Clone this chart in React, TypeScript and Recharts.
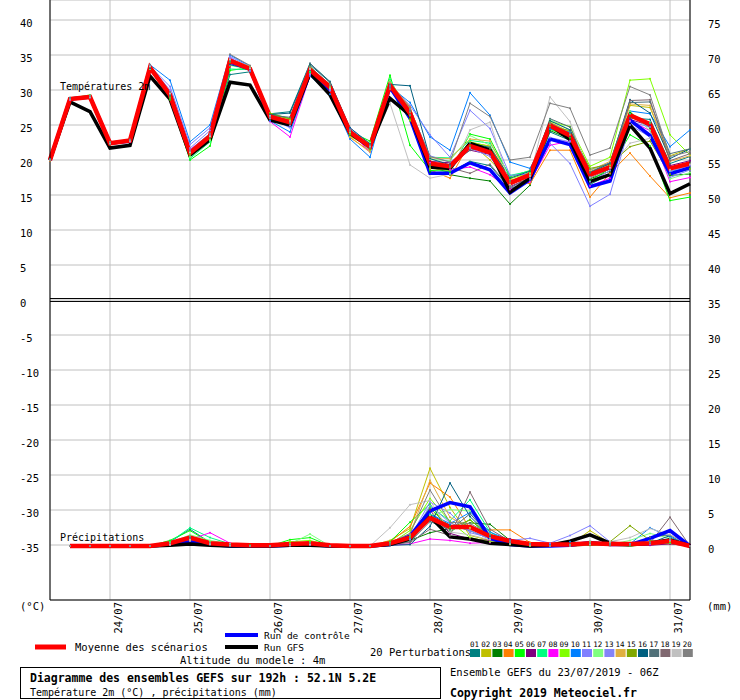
import React from 'react';
import { ComposedChart, Line, XAxis, YAxis, CartesianGrid, ReferenceLine } from 'recharts';

// forecast steps, hours after 23/07 06Z
const hours = [0, 6, 12, 18, 24, 30, 36, 42, 48, 54, 60, 66, 72, 78, 84, 90, 96, 102, 108, 114, 120, 126, 132, 138, 144, 150, 156, 162, 168, 174, 180, 186, 192];
const dayTicks = [18, 42, 66, 90, 114, 138, 162, 186];
const dayLabels = ['24/07', '25/07', '26/07', '27/07', '28/07', '29/07', '30/07', '31/07'];
const tempTicks = [-35, -30, -25, -20, -15, -10, -5, 0, 5, 10, 15, 20, 25, 30, 35, 40];
const precipTicks = [0, 5, 10, 15, 20, 25, 30, 35, 40, 45, 50, 55, 60, 65, 70, 75];

const memberColors = [
  '#008080', '#c0c000', '#008000', '#ff8000', '#00ff00', '#800080', '#00ff80', '#ff00ff', '#80ff00', '#0080ff',
  '#8080ff', '#80ff80', '#8484f8', '#e0b040', '#80a800', '#006080', '#507078', '#806870', '#c0c0c0', '#808080',
];

// 2m temperature (°C)
const tempMean = [20.0, 28.7, 29.0, 22.4, 22.8, 33.2, 29.3, 21.0, 23.4, 34.2, 33.0, 26.2, 25.4, 32.9, 30.4, 24.0, 21.9, 30.7, 26.7, 19.5, 19.1, 22.0, 21.1, 16.7, 17.9, 24.9, 23.5, 17.9, 19.0, 26.4, 25.1, 18.8, 19.5];
const tempControl = [20.0, 28.7, 29.0, 22.4, 22.7, 33.2, 29.3, 21.0, 23.3, 34.0, 33.0, 26.0, 25.0, 32.5, 30.0, 24.0, 21.8, 30.4, 26.0, 18.1, 18.1, 19.6, 18.6, 15.3, 17.2, 23.0, 22.2, 16.2, 17.0, 25.7, 23.5, 18.0, 18.9];
const tempGfs = [20.0, 28.3, 26.9, 21.7, 22.1, 32.0, 28.7, 20.7, 22.9, 31.1, 30.7, 25.7, 25.0, 32.4, 29.3, 23.8, 21.9, 28.8, 26.4, 19.0, 18.8, 22.4, 21.4, 15.4, 17.4, 25.0, 22.9, 16.9, 17.9, 25.0, 21.7, 15.2, 16.6];
const tempMembers = [
  [20.1, 28.8, 29.1, 22.5, 22.9, 33.0, 29.0, 20.6, 23.0, 32.2, 32.6, 26.6, 26.9, 33.8, 31.2, 24.4, 22.0, 30.9, 27.5, 19.0, 18.2, 19.8, 19.2, 15.9, 17.0, 24.0, 22.8, 16.5, 18.0, 26.0, 25.8, 19.5, 20.5],
  [20.0, 28.9, 29.2, 22.6, 22.9, 33.3, 29.2, 21.2, 23.6, 34.5, 33.3, 26.0, 25.8, 33.2, 30.8, 23.4, 21.8, 31.0, 25.9, 18.8, 18.5, 22.5, 20.0, 16.9, 18.2, 25.4, 24.0, 18.2, 19.2, 27.8, 27.5, 20.6, 21.6],
  [20.0, 28.7, 29.0, 22.3, 22.7, 33.1, 29.6, 21.1, 23.4, 34.4, 33.1, 26.4, 25.6, 32.6, 30.1, 23.6, 21.6, 31.2, 26.0, 18.3, 17.9, 17.4, 17.0, 13.7, 16.4, 24.2, 23.0, 17.3, 18.4, 26.8, 24.6, 17.8, 18.0],
  [19.9, 28.6, 29.1, 22.2, 22.6, 33.2, 29.5, 20.8, 23.8, 34.3, 33.2, 25.9, 25.2, 32.7, 30.3, 23.2, 21.3, 31.0, 27.6, 18.6, 17.4, 22.5, 22.0, 17.3, 16.6, 21.4, 21.4, 14.7, 18.1, 21.0, 17.7, 14.6, 15.3],
  [20.1, 28.8, 28.9, 22.4, 22.8, 33.0, 28.6, 20.0, 22.0, 32.8, 33.2, 26.5, 25.9, 32.5, 30.3, 24.1, 22.7, 32.1, 22.1, 18.5, 18.4, 23.7, 23.0, 17.6, 18.5, 24.4, 23.2, 17.0, 18.8, 23.6, 22.0, 14.2, 14.7],
  [20.0, 28.7, 29.0, 22.4, 22.8, 33.4, 29.4, 21.3, 23.6, 34.4, 32.8, 26.3, 25.3, 32.8, 30.5, 24.2, 22.1, 30.5, 27.0, 19.8, 19.6, 21.4, 20.8, 16.2, 17.4, 24.6, 23.4, 17.6, 18.7, 25.8, 24.9, 19.2, 19.9],
  [20.0, 28.8, 29.1, 22.4, 22.7, 33.2, 28.9, 20.2, 22.6, 33.0, 32.9, 26.4, 25.5, 32.6, 30.5, 23.7, 22.2, 31.5, 26.4, 20.4, 20.3, 22.8, 22.4, 17.8, 18.4, 25.2, 23.8, 17.5, 18.9, 26.6, 25.3, 18.4, 18.8],
  [20.0, 28.6, 28.9, 22.5, 22.6, 33.2, 29.6, 21.5, 23.7, 34.6, 32.9, 25.5, 23.3, 32.0, 30.0, 23.9, 21.2, 30.2, 27.0, 19.6, 18.6, 19.0, 17.9, 15.8, 16.9, 22.1, 22.7, 16.3, 17.4, 25.6, 24.2, 16.9, 17.5],
  [20.0, 28.8, 29.3, 22.5, 22.8, 33.1, 29.3, 20.5, 22.9, 34.1, 33.4, 26.7, 25.9, 33.4, 30.4, 23.9, 21.4, 30.2, 25.6, 18.9, 19.0, 22.6, 21.9, 17.3, 18.2, 25.5, 24.8, 19.1, 20.4, 31.4, 31.6, 23.6, 20.7],
  [20.1, 28.9, 29.2, 22.3, 22.7, 33.6, 31.4, 22.6, 25.0, 35.0, 33.4, 25.6, 24.0, 32.0, 29.4, 23.0, 20.4, 30.5, 28.2, 23.3, 21.4, 29.6, 26.4, 19.7, 18.8, 24.4, 24.0, 18.6, 19.6, 27.0, 26.6, 21.9, 24.3],
  [20.0, 28.7, 29.0, 22.5, 22.9, 33.4, 30.5, 22.2, 24.6, 34.8, 33.3, 26.0, 24.6, 32.2, 29.9, 24.6, 22.3, 30.6, 27.8, 23.6, 20.4, 27.1, 24.5, 17.8, 18.0, 22.4, 19.5, 13.4, 15.1, 25.0, 23.3, 17.5, 18.6],
  [20.0, 28.8, 29.0, 22.3, 22.8, 33.0, 29.4, 20.4, 22.8, 33.5, 33.0, 26.1, 25.6, 33.1, 30.6, 24.0, 22.5, 31.3, 26.9, 20.1, 19.9, 23.5, 22.1, 16.4, 18.0, 25.8, 24.3, 18.3, 19.4, 27.0, 24.2, 17.3, 18.2],
  [20.0, 28.6, 29.0, 22.4, 22.7, 33.4, 30.0, 21.7, 24.2, 34.7, 32.7, 26.0, 24.9, 32.3, 30.0, 24.4, 21.8, 30.2, 27.2, 20.6, 19.7, 21.7, 20.5, 16.1, 17.3, 23.2, 22.6, 16.9, 18.5, 25.5, 24.7, 18.4, 19.2],
  [20.0, 28.7, 29.1, 22.5, 22.8, 33.3, 29.3, 21.0, 23.5, 34.3, 33.4, 26.3, 25.7, 33.0, 30.7, 23.3, 21.1, 31.0, 27.4, 20.3, 20.2, 23.0, 22.7, 17.1, 17.9, 25.2, 23.6, 18.5, 19.8, 28.0, 27.8, 19.8, 20.6],
  [20.0, 28.7, 29.0, 22.4, 22.8, 33.1, 29.0, 20.9, 23.2, 34.0, 33.2, 26.6, 25.9, 33.3, 30.7, 23.7, 21.6, 30.8, 25.8, 19.2, 19.0, 22.0, 21.6, 16.4, 17.8, 24.8, 24.2, 18.8, 19.4, 21.9, 22.7, 18.0, 18.7],
  [20.0, 28.8, 29.0, 22.4, 22.8, 33.1, 29.2, 21.2, 23.4, 33.6, 33.0, 26.5, 26.7, 33.6, 31.1, 24.6, 22.3, 30.8, 30.6, 20.2, 19.3, 22.4, 21.8, 17.4, 18.4, 25.6, 24.3, 18.2, 19.5, 28.6, 26.7, 20.2, 21.6],
  [20.0, 28.7, 29.0, 22.5, 22.8, 33.2, 29.3, 21.1, 23.4, 34.1, 33.1, 26.4, 26.1, 33.8, 31.1, 24.1, 22.0, 30.4, 27.0, 19.4, 19.2, 21.4, 21.8, 17.0, 17.8, 25.9, 24.7, 18.3, 19.6, 28.2, 28.3, 20.9, 21.6],
  [20.0, 28.7, 28.9, 22.3, 22.7, 33.3, 29.6, 21.1, 23.5, 34.4, 33.0, 26.2, 25.3, 32.9, 30.6, 24.2, 21.9, 30.3, 26.5, 19.0, 18.9, 18.1, 19.4, 16.0, 17.6, 25.3, 23.8, 17.4, 18.8, 28.5, 28.6, 19.9, 20.9],
  [20.0, 28.7, 29.0, 22.4, 22.7, 33.4, 29.5, 21.1, 23.4, 34.4, 33.1, 26.3, 25.5, 33.0, 30.2, 24.2, 22.0, 28.1, 19.3, 17.4, 18.0, 24.3, 25.4, 16.5, 17.7, 29.0, 25.5, 17.5, 18.9, 22.4, 23.1, 18.6, 19.4],
  [20.0, 28.8, 29.1, 22.5, 22.9, 33.6, 29.7, 21.4, 23.8, 35.1, 33.5, 26.1, 25.4, 33.3, 30.8, 24.3, 22.1, 30.9, 27.3, 20.5, 19.7, 28.1, 26.2, 20.0, 20.4, 28.1, 27.4, 20.7, 21.7, 30.5, 29.3, 20.5, 21.2],
];

// 6h precipitation (mm), first step has no value
const precipMean = [null, 0, 0, 0, 0, 0, 0.4, 1.2, 0.4, 0.2, 0.1, 0.1, 0.3, 0.4, 0.1, 0, 0, 0.4, 1.2, 4.0, 2.7, 2.7, 1.4, 0.7, 0.3, 0.2, 0.2, 0.4, 0.3, 0.3, 0.4, 0.7, 0];
const precipControl = [null, 0, 0, 0, 0, 0, 0.2, 0.6, 0.2, 0, 0, 0, 0.1, 0.2, 0, 0, 0, 0.2, 1.4, 5.0, 6.2, 5.6, 1.1, 0.2, 0, 0, 0.1, 0.5, 0.2, 0.2, 1.1, 2.2, 0];
const precipGfs = [null, 0, 0, 0, 0, 0, 0.1, 0.3, 0.1, 0, 0, 0, 0.1, 0.1, 0, 0, 0, 0.2, 1.0, 4.2, 1.3, 1.0, 0.4, 0.2, 0, 0.1, 0.7, 1.6, 0.4, 0.2, 0.4, 0.9, 0];
const precipMembers = [
  [null, 0, 0, 0, 0, 0, 0.6, 2.4, 0.5, 0.2, 0, 0, 0.2, 0.3, 0, 0, 0, 0.3, 1.5, 4.5, 3.0, 2.2, 1.0, 0.6, 0.2, 0, 0, 0.3, 0.2, 0, 0.2, 0.5, 0],
  [null, 0, 0, 0, 0, 0, 0.3, 1.0, 0.3, 0.1, 0, 0, 0.2, 0.5, 0, 0, 0, 0.8, 2.5, 11.1, 5.5, 1.5, 0.8, 0.3, 0.1, 0, 0.2, 2.2, 0.4, 0.2, 0.3, 0.4, 0],
  [null, 0, 0, 0, 0, 0, 0.4, 1.3, 0.2, 0, 0, 0, 0.3, 0.4, 0, 0, 0, 0.2, 0.8, 1.9, 2.5, 3.3, 3.1, 0.8, 0.2, 0, 0, 0.1, 0.3, 0.2, 0.4, 0.6, 0],
  [null, 0, 0, 0, 0, 0, 0.2, 0.8, 0.2, 0, 0, 0, 0.1, 0.2, 0, 0, 0, 0.6, 2.8, 9.0, 7.0, 2.5, 2.3, 2.3, 0.5, 0, 0.1, 0.2, 0.1, 0, 0.2, 0.3, 0],
  [null, 0, 0, 0, 0, 0, 0.8, 2.2, 0.5, 0.2, 0.1, 0, 0.9, 1.2, 0, 0, 0, 0.6, 3.4, 6.0, 2.0, 3.8, 1.2, 0.4, 0.1, 0, 0, 0.2, 0.1, 0, 0.3, 0.5, 0],
  [null, 0, 0, 0, 0, 0, 0.3, 1.2, 0.4, 0.1, 0, 0, 0.1, 0.2, 0, 0, 0, 0.2, 1.6, 5.1, 1.8, 1.0, 0.8, 1.0, 0.3, 0, 0.1, 0.4, 0.2, 0.1, 0.1, 0.3, 0],
  [null, 0, 0, 0, 0, 0, 0.6, 2.6, 1.2, 0.3, 0, 0, 0.2, 0.6, 0, 0, 0, 0.4, 1.0, 5.6, 3.6, 6.6, 2.0, 0.4, 0.1, 0, 0.1, 0.3, 0.2, 0.2, 0.3, 0.4, 0],
  [null, 0, 0, 0, 0, 0, 0.2, 0.9, 1.9, 0.4, 0, 0, 0.1, 0.2, 0, 0, 0, 0.1, 0.3, 1.0, 0.8, 0.4, 0.5, 0.3, 0.1, 0, 0, 0.2, 0.3, 0.1, 0.2, 0.6, 0],
  [null, 0, 0, 0, 0, 0, 0.5, 1.4, 0.6, 0.2, 0, 0, 0.6, 0.8, 0, 0, 0, 0.3, 2.2, 6.8, 3.5, 1.2, 0.6, 0.2, 0, 0, 0, 0.6, 0.4, 0.3, 0.4, 0.8, 0],
  [null, 0, 0, 0, 0, 0, 0.3, 1.1, 0.2, 0, 0, 0, 0.1, 0.2, 0, 0, 0, 0.2, 1.1, 4.6, 3.2, 4.8, 2.0, 0.8, 0.3, 0.2, 0.6, 0.4, 0.2, 0.3, 2.6, 1.3, 0],
  [null, 0, 0, 0, 0, 0, 0.2, 0.7, 0.3, 0.2, 0, 0, 0.1, 0.3, 0, 0, 0, 0.3, 1.2, 6.3, 4.7, 1.9, 1.2, 0.8, 1.1, 0.4, 1.5, 2.9, 0.6, 0.2, 0.4, 1.0, 0],
  [null, 0, 0, 0, 0, 0, 0.4, 1.6, 0.8, 0.3, 0, 0, 0.3, 1.7, 0, 0, 0, 0.2, 1.4, 4.4, 5.2, 5.0, 1.8, 0.5, 0.1, 0, 0, 0.2, 0.2, 0.8, 1.8, 1.1, 0],
  [null, 0, 0, 0, 0, 0, 0.2, 0.9, 0.4, 0.1, 0, 0, 0.1, 0.2, 0, 0, 0, 0.2, 0.9, 5.8, 3.3, 2.2, 1.0, 0.5, 0.2, 0, 0.1, 0.5, 0.3, 0.2, 0.5, 0.8, 0],
  [null, 0, 0, 0, 0, 0, 0.2, 0.8, 0.3, 0.1, 0, 0, 0.2, 0.3, 0, 0, 0, 0.4, 1.7, 9.4, 4.1, 2.6, 1.3, 0.4, 0.1, 0, 0, 0.5, 0.2, 0.1, 0.4, 0.6, 0],
  [null, 0, 0, 0, 0, 0, 0.3, 1.1, 0.3, 0.1, 0, 0, 0.2, 0.4, 0, 0, 0, 0.3, 1.3, 5.4, 2.6, 3.7, 1.6, 0.3, 0.1, 0, 0, 0.2, 0.6, 2.9, 0.8, 0.5, 0],
  [null, 0, 0, 0, 0, 0, 0.3, 1.0, 0.2, 0.1, 0, 0, 0.1, 0.2, 0, 0, 0, 0.1, 0.2, 2.8, 9.0, 4.2, 1.4, 0.4, 0.1, 0, 0, 0.3, 0.2, 0.1, 0.4, 1.5, 0],
  [null, 0, 0, 0, 0, 0, 0.3, 1.2, 0.4, 0.1, 0, 0, 0.1, 0.3, 0, 0, 0, 0.2, 0.6, 3.5, 2.3, 4.6, 1.5, 0.6, 0.2, 0, 0, 0.4, 0.2, 0.1, 1.3, 1.6, 0],
  [null, 0, 0, 0, 0, 0, 0.3, 1.0, 0.3, 0, 0, 0, 0.1, 0.2, 0, 0, 0, 0.2, 0.5, 2.4, 1.5, 7.7, 2.4, 0.7, 0.2, 0, 0, 0.3, 0.1, 0.1, 0.4, 4.1, 0],
  [null, 0, 0, 0, 0, 0, 0.2, 0.9, 0.3, 0.1, 0, 0, 0.1, 0.2, 0, 0, 0, 2.6, 5.9, 6.5, 2.0, 1.6, 0.9, 0.3, 0.1, 0, 0, 0.3, 0.6, 1.2, 2.5, 1.6, 0],
  [null, 0, 0, 0, 0, 0, 0.4, 1.4, 0.5, 0.2, 0, 0, 0.2, 0.4, 0, 0, 0, 0.5, 1.8, 8.0, 3.4, 3.2, 1.7, 0.6, 0.2, 0, 0, 0.4, 0.3, 0.2, 0.5, 1.0, 0],
];

const data = hours.map((h, i) => {
  const row: Record<string, number | null> = {
    h,
    tMean: tempMean[i],
    tCtl: tempControl[i],
    tGfs: tempGfs[i],
    pMean: precipMean[i],
    pCtl: precipControl[i],
    pGfs: precipGfs[i],
  };
  tempMembers.forEach((m, k) => { row['t' + k] = m[i]; });
  precipMembers.forEach((m, k) => { row['p' + k] = m[i]; });
  return row;
});

const FONT = 'DejaVu Sans Mono, monospace';

const LeftTick = (props: any) => (
  <text x={20} y={props.y + 7} fontSize={10.5} fontFamily={FONT} fill="#000">{props.payload.value}</text>
);

const RightTick = (props: any) => (
  <text x={708} y={props.y + 7} fontSize={10.5} fontFamily={FONT} fill="#000">{props.payload.value}</text>
);

const DayTick = (props: any) => (
  <text
    transform={`translate(${props.x + 12},602) rotate(-90)`}
    textAnchor="end"
    fontSize={10.5}
    fontFamily={FONT}
    fill="#000"
  >
    {dayLabels[dayTicks.indexOf(props.payload.value)]}
  </text>
);

export default function App() {
  return (
    <div style={{ position: 'absolute', left: 0, top: 0, width: 740, height: 700, background: '#fff', overflow: 'hidden' }}>
      <ComposedChart width={740} height={640} data={data} margin={{ top: 0, right: 0, bottom: 0, left: 0 }}>
        <CartesianGrid yAxisId="t" stroke="#c0c0c0" />
        <XAxis
          dataKey="h"
          type="number"
          domain={[0, 192]}
          ticks={dayTicks}
          interval={0}
          tick={<DayTick />}
          tickLine={false}
          axisLine={{ stroke: '#000' }}
          height={40}
        />
        <YAxis
          yAxisId="t"
          orientation="left"
          width={50}
          domain={[-300 / 7, 300 / 7]}
          ticks={tempTicks}
          interval={0}
          allowDataOverflow
          tick={<LeftTick />}
          tickLine={false}
          axisLine={{ stroke: '#000' }}
        />
        <YAxis
          yAxisId="p"
          orientation="right"
          width={50}
          domain={[-54 / 7, 78]}
          ticks={precipTicks}
          interval={0}
          allowDataOverflow
          tick={<RightTick />}
          tickLine={false}
          axisLine={{ stroke: '#000' }}
        />
        <ReferenceLine yAxisId="t" y={0.21} stroke="#000" />
        <ReferenceLine yAxisId="t" y={-0.21} stroke="#000" />

        {memberColors.map((c, k) => (
          <Line
            key={'t' + k}
            yAxisId="t"
            type="linear"
            dataKey={'t' + k}
            stroke={c}
            strokeWidth={1}
            dot={{ r: 1, fill: c, strokeWidth: 0 }}
            isAnimationActive={false}
          />
        ))}
        {memberColors.map((c, k) => (
          <Line
            key={'p' + k}
            yAxisId="p"
            type="linear"
            dataKey={'p' + k}
            stroke={c}
            strokeWidth={1}
            dot={{ r: 1, fill: c, strokeWidth: 0 }}
            isAnimationActive={false}
          />
        ))}
        <Line yAxisId="t" type="linear" dataKey="tCtl" stroke="#0000ff" strokeWidth={3.5} dot={false} isAnimationActive={false} />
        <Line yAxisId="p" type="linear" dataKey="pCtl" stroke="#0000ff" strokeWidth={3.5} dot={false} isAnimationActive={false} />
        <Line yAxisId="t" type="linear" dataKey="tGfs" stroke="#000000" strokeWidth={3.5} dot={false} isAnimationActive={false} />
        <Line yAxisId="p" type="linear" dataKey="pGfs" stroke="#000000" strokeWidth={3.5} dot={false} isAnimationActive={false} />
        <Line yAxisId="t" type="linear" dataKey="tMean" stroke="#ff0000" strokeWidth={4.5} dot={false} isAnimationActive={false} />
        <Line yAxisId="p" type="linear" dataKey="pMean" stroke="#ff0000" strokeWidth={4.5} dot={false} isAnimationActive={false} />
      </ComposedChart>

      <svg width={740} height={700} style={{ position: 'absolute', left: 0, top: 0, pointerEvents: 'none' }} fontFamily={FONT} fill="#000">
        <text x={60} y={90} fontSize={10}>Températures 2m</text>
        <text x={60} y={541} fontSize={10}>Précipitations</text>
        <text x={20} y={610} fontSize={10.5}>(°C)</text>
        <text x={707} y={610} fontSize={10.5}>(mm)</text>

        <line x1={35} x2={66} y1={647} y2={647} stroke="#ff0000" strokeWidth={5} />
        <text x={75} y={651} fontSize={10.5}>Moyenne des scénarios</text>
        <line x1={225} x2={258} y1={635} y2={635} stroke="#0000ff" strokeWidth={4} />
        <text x={264} y={639} fontSize={9.5}>Run de contrôle</text>
        <line x1={225} x2={258} y1={647} y2={647} stroke="#000" strokeWidth={4} />
        <text x={264} y={651} fontSize={9.5}>Run GFS</text>
        <text x={180} y={664} fontSize={10.5}>Altitude du modele : 4m</text>
        <text x={370} y={656} fontSize={10.5}>20 Perturbations</text>
        {memberColors.map((c, k) => (
          <g key={k}>
            <text x={470 + k * 11.2} y={647} fontSize={7.5}>{String(k + 1).padStart(2, '0')}</text>
            <rect x={470 + k * 11.2} y={649} width={10} height={8} fill={c} />
          </g>
        ))}

        <rect x={20.5} y={667.5} width={420} height={31} fill="none" stroke="#000" />
        <text x={30} y={682} fontSize={11.5} fontWeight="bold">Diagramme des ensembles GEFS sur 192h : 52.1N 5.2E</text>
        <text x={30} y={696} fontSize={10}>Température 2m (°C) , précipitations (mm)</text>
        <text x={450} y={676} fontSize={10.5}>Ensemble GEFS du 23/07/2019 - 06Z</text>
        <text x={450} y={697} fontSize={11.5} fontWeight="bold">Copyright 2019 Meteociel.fr</text>
      </svg>
    </div>
  );
}
